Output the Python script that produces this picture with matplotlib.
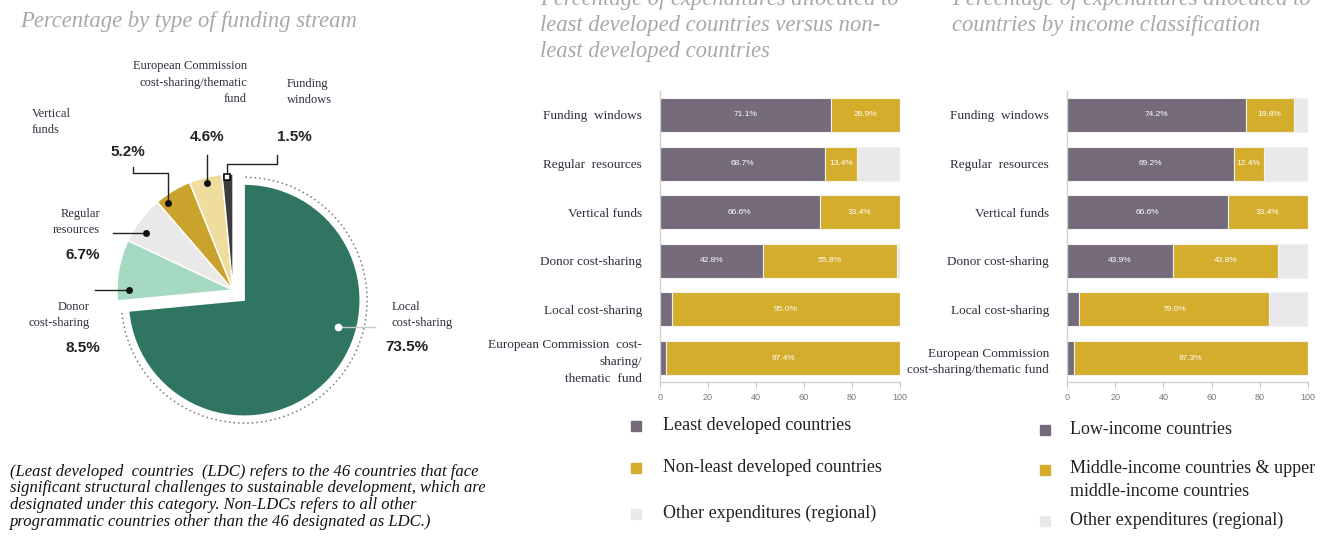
import numpy as np
import matplotlib
matplotlib.use("Agg")
import matplotlib.pyplot as plt
from matplotlib.patches import Arc, Rectangle

W, H = 1325, 539
SERIF = "Liberation Serif"
SANS = "Liberation Sans"

# ---- data ----
pie_labels = ["Local\ncost-sharing", "Donor\ncost-sharing", "Regular\nresources",
              "Vertical\nfunds", "European Commission\ncost-sharing/thematic\nfund",
              "Funding\nwindows"]
pie_values = [73.5, 8.5, 6.7, 5.2, 4.6, 1.5]
pie_colors = ["#2f7562", "#a6d9c2", "#e9e9ea", "#caa32c", "#eedd9c", "#3c3c3c"]

bar_cats_ldc = ["Funding  windows", "Regular  resources", "Vertical funds",
                "Donor cost-sharing", "Local cost-sharing",
                "European Commission  cost-\nsharing/\nthematic  fund"]
bar_cats_inc = ["Funding  windows", "Regular  resources", "Vertical funds",
                "Donor cost-sharing", "Local cost-sharing",
                "European Commission\ncost-sharing/thematic fund"]

ldc = [71.1, 68.7, 66.6, 42.8, 5.0, 2.6]
non_ldc = [28.9, 13.4, 33.4, 55.8, 95.0, 97.4]
other_ldc = [0.0, 17.9, 0.0, 1.4, 0.0, 0.0]

low_inc = [74.2, 69.2, 66.6, 43.9, 5.0, 2.7]
mid_inc = [19.8, 12.4, 33.4, 43.8, 79.0, 97.3]
other_inc = [6.0, 18.4, 0.0, 12.3, 16.0, 0.0]

legend_ldc = ["Least developed countries", "Non-least developed countries",
              "Other expenditures (regional)"]
legend_inc = ["Low-income countries",
              "Middle-income countries & upper\nmiddle-income countries",
              "Other expenditures (regional)"]

title_pie = "Percentage by type of funding stream"
title_ldc = ["Percentage of expenditures allocated to",
             "least developed countries versus non-",
             "least developed countries"]
title_inc = ["Percentage of expenditures allocated to",
             "countries by income classification"]
footnote = ["(Least developed  countries  (LDC) refers to the 46 countries that face",
            "significant structural challenges to sustainable development, which are",
            "designated under this category. Non-LDCs refers to all other",
            "programmatic countries other than the 46 designated as LDC.)"]

PURPLE, GOLD, LGRAY = "#756b7b", "#d4ad2d", "#e9e9eb"
TITLE_C = "#a8a8a8"
TXT = "#2e2e3e"

fig = plt.figure(figsize=(W / 100, H / 100), dpi=100)
fig.patch.set_facecolor("white")


def fx(x):
    return x / W


def fy(y):
    return 1 - y / H


# ---- titles ----
tkw = dict(family=SERIF, style="italic", fontsize=16.3, color=TITLE_C, va="center")
fig.text(fx(20), fy(22), title_pie, **tkw)
for k, line in enumerate(title_ldc):
    fig.text(fx(540), fy(-1 + 26 * k), line, **tkw)
for k, line in enumerate(title_inc):
    fig.text(fx(952), fy(-1 + 26 * k), line, **tkw)

# ---- pie ----
R = 116.0
CX, CY = 233.0, 290.0
axp = fig.add_axes([0, fy(440), 480 / W, 300 / H])

explode = [0.13, 0, 0, 0, 0, 0]
wedges, _ = axp.pie(pie_values, colors=pie_colors, startangle=90,
                    counterclock=False, explode=explode,
                    wedgeprops=dict(edgecolor="white", linewidth=1.0))
axp.set_xlim(-CX / R, (480 - CX) / R)
axp.set_ylim(-150 / R, 150 / R)
axp.set_axis_off()

mid0 = np.deg2rad(90 - 3.6 * pie_values[0] / 2)
off = 0.13 * np.array([np.cos(mid0), np.sin(mid0)])
axp.add_patch(Arc(off, 2 * 1.06, 2 * 1.06, theta1=186, theta2=450,
                  color="#7a7a7a", lw=1.1, ls=(0, (1, 2))))

# leader dots + lines (layout only)
dot_frac = [0.40, 0.18, 0.33, 0.21, 0.51, 0.44]
dot_r = [0.845, 0.90, 0.90, 0.936, 0.95, 0.975]
leaders = [[("h", 375)], [("h", 95)], [("h", 113)],
           [("v", 173), ("h", 133), ("v", 167)], [("v", 155)],
           [("v", 164), ("h", 277), ("v", 155)]]
cum = np.concatenate([[0], np.cumsum(pie_values)])
for i in range(len(pie_values)):
    t0 = 90 - 3.6 * cum[i]
    t1 = 90 - 3.6 * cum[i + 1]
    a = np.deg2rad(t0 + dot_frac[i] * (t1 - t0))
    c = off if i == 0 else np.zeros(2)
    dx, dy = c[0] + dot_r[i] * np.cos(a), c[1] + dot_r[i] * np.sin(a)
    xs, ys = [dx], [dy]
    for kind, v in leaders[i]:
        if kind == "h":
            xs.append((v - CX) / R)
            ys.append(ys[-1])
        else:
            xs.append(xs[-1])
            ys.append((CY - v) / R)
    lc = "#c8c8c8" if i == 0 else "#222222"
    axp.plot(xs, ys, color=lc, lw=1.0, zorder=5)
    if i == 0:
        axp.plot(dx, dy, "o", ms=4.5, mfc="white", mec="white", zorder=6)
    elif i == 5:
        axp.plot(dx, dy, "s", ms=4.5, mfc="white", mec="#111", mew=1.2, zorder=6)
    else:
        axp.plot(dx, dy, "o", ms=4, color="#111", zorder=6)

# pie labels (pixel layout)
name_pos = [(392, 315, "left"), (90, 315, "right"), (100, 222, "right"),
            (32, 122, "left"), (247, 83, "right"), (287, 92, "left")]
pct_pos = [(385, 347, "left"), (100, 348, "right"), (100, 255, "right"),
           (128, 152, "center"), (207, 137, "center"), (294, 137, "center")]
for i, lab in enumerate(pie_labels):
    x, y, ha = name_pos[i]
    fig.text(fx(x), fy(y), lab, family=SERIF, fontsize=9, color=TXT,
             ha=ha, va="center", multialignment=ha, linespacing=1.5)
    x, y, ha = pct_pos[i]
    fig.text(fx(x), fy(y), f"{pie_values[i]:.1f}%", family=SANS, weight="bold",
             fontsize=11, color="#222", ha=ha, va="center")


# ---- bar charts ----
def bar_chart(left_px, right_px, cats, s1, s2, s3):
    top, bot = 90.7, 382.3
    ax = fig.add_axes([fx(left_px), fy(bot), (right_px - left_px) / W, (bot - top) / H])
    y = np.arange(len(cats))
    s1, s2, s3 = map(np.array, (s1, s2, s3))
    ec = dict(edgecolor="#f2f2f2", linewidth=0.8)
    ax.barh(y, s1, height=0.7, color=PURPLE, **ec)
    ax.barh(y, s2, left=s1, height=0.7, color=GOLD, **ec)
    ax.barh(y, s3, left=s1 + s2, height=0.7, color=LGRAY, **ec)
    for yi in y:
        for start, v in ((0, s1[yi]), (s1[yi], s2[yi])):
            if v >= 10:
                ax.text(start + v / 2, yi, f"{v:.1f}%", color="white",
                        fontsize=6, family=SANS, ha="center", va="center")
    ax.set_xlim(0, 100)
    ax.set_ylim(len(cats) - 0.5, -0.5)
    ax.set_yticks(y)
    ax.set_yticklabels(cats, family=SERIF, fontsize=9.5, color=TXT)
    for t in ax.get_yticklabels():
        t.set_linespacing(1.55)
    ax.tick_params(axis="y", length=0, pad=13)
    ax.set_xticks(np.arange(0, 101, 20))
    ax.tick_params(axis="x", length=4, color="#c8c8c8", labelsize=6.5,
                   labelcolor="#777", pad=4)
    for t in ax.get_xticklabels():
        t.set_family(SANS)
    for s in ("top", "right"):
        ax.spines[s].set_visible(False)
    for s in ("left", "bottom"):
        ax.spines[s].set_color("#cfcfcf")
        ax.spines[s].set_linewidth(0.9)
    return ax


bar_chart(660, 900, bar_cats_ldc, ldc, non_ldc, other_ldc)
bar_chart(1067, 1308, bar_cats_inc, low_inc, mid_inc, other_inc)


# ---- legends ----
def legend(xsq, xtxt, ys, labels):
    for (ysq, ytx), lab, col in zip(ys, labels, (PURPLE, GOLD, LGRAY)):
        fig.add_artist(Rectangle((fx(xsq - 5), fy(ysq + 5)), 10 / W, 10 / H,
                                 transform=fig.transFigure, color=col))
        fig.text(fx(xtxt), fy(ytx), lab, family=SERIF, fontsize=13, color="#222",
                 va="center", linespacing=1.45)


legend(636, 663, [(426, 425), (468, 468), (514, 513)], legend_ldc)
legend(1045, 1070, [(430, 430), (470, 480), (521, 520)], legend_inc)

# ---- footnote ----
for k, line in enumerate(footnote):
    fig.text(fx(10), fy(472 + 16.5 * k), line, family=SERIF, style="italic",
             fontsize=12, color="#111", va="center")

fig.savefig("out.png", dpi=100)
